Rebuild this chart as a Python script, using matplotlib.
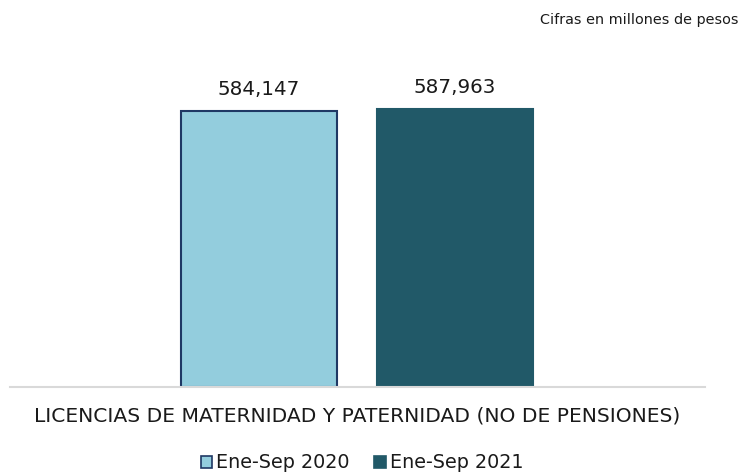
import matplotlib
matplotlib.use("Agg")
import matplotlib.pyplot as plt
from matplotlib.patches import Patch

category = "LICENCIAS DE MATERNIDAD Y PATERNIDAD (NO DE PENSIONES)"
series_names = ["Ene-Sep 2020", "Ene-Sep 2021"]
values = [584147, 587963]
colors = ["#93CDDD", "#215968"]
edges = ["#1F3864", "#215968"]

fig = plt.figure(figsize=(7.44, 4.72), dpi=100)
ax = fig.add_axes([10/744, 1 - 387/472, 695/744, (387 - 56)/472])

offsets = [-0.1417, 0.1403]
width = 0.2245
for off, v, c, e in zip(offsets, values, colors, edges):
    ax.bar(off, v, width=width, color=c, edgecolor=e, linewidth=1.5)
    ax.text(off, v + 25000, f"{v:,}", ha="center", va="bottom", fontsize=14.3, color="#1a1a1a")

ax.set_xlim(-0.5, 0.5)
ax.set_ylim(0, 700000)
for s in ["top", "right", "left"]:
    ax.spines[s].set_visible(False)
ax.spines["bottom"].set_color("#D9D9D9")
ax.spines["bottom"].set_linewidth(1.5)
ax.set_yticks([])
ax.set_xticks([0])
ax.set_xticklabels([category], fontsize=14.6, color="#1a1a1a")
ax.tick_params(axis="x", length=0, pad=14)

fig.text(738/744, 1 - 20/472, "Cifras en millones de pesos", ha="right", va="center", fontsize=10.4, color="#1a1a1a")

handles = [Patch(facecolor=colors[0], edgecolor=edges[0], linewidth=1.2),
           Patch(facecolor=colors[1], edgecolor=edges[1], linewidth=1.2)]
fig.legend(handles, series_names, loc="center", bbox_to_anchor=(362/744, 1 - 463/472),
           ncol=2, frameon=False, fontsize=13.8, handlelength=0.6, handleheight=0.6,
           handletextpad=0.2, columnspacing=1.3, labelcolor="#1a1a1a")

fig.savefig("out.png", dpi=100)
